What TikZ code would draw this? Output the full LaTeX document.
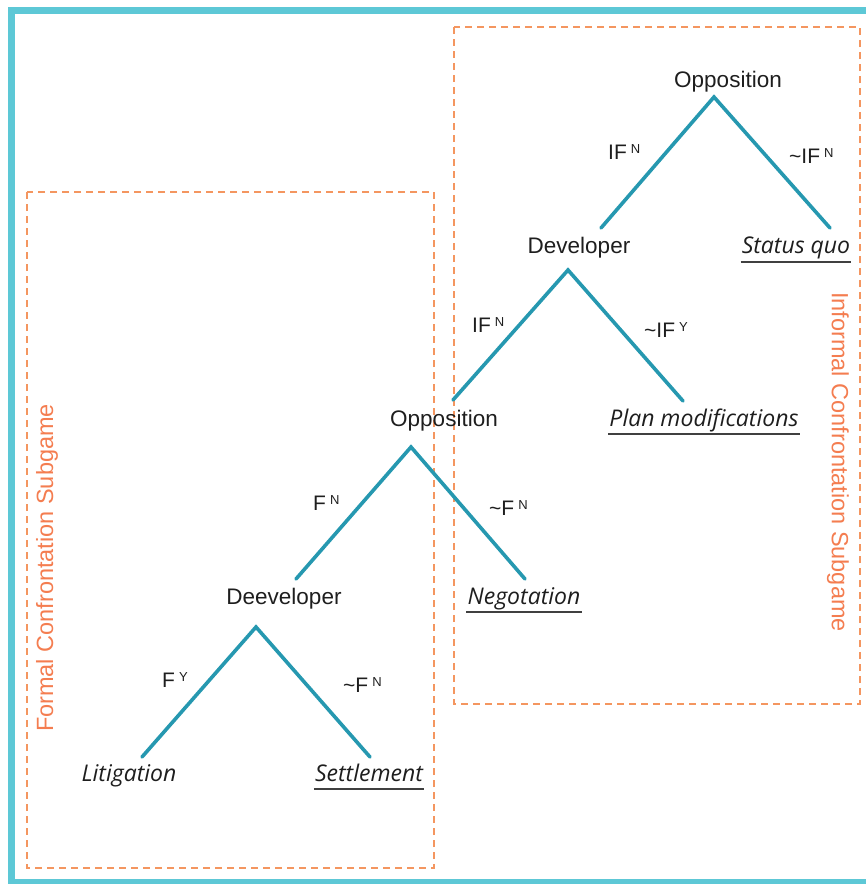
\documentclass[tikz,border=0pt]{standalone}
\usepackage{fontspec}
\setmainfont{Liberation Sans}
\newfontfamily\leaffont{Open Sans}
\definecolor{frameC}{RGB}{93,200,214}
\definecolor{treeC}{RGB}{38,152,176}
\definecolor{dashC}{RGB}{244,150,96}
\definecolor{subC}{RGB}{244,125,80}
\definecolor{txtC}{RGB}{30,30,30}
\newcommand\supl[1]{\hspace{4pt}\raisebox{6pt}{\fontsize{13}{15}\selectfont #1}}
\begin{document}
\begin{tikzpicture}[x=1pt,y=-1pt,
  branch/.style={draw=treeC, line width=3.6pt, line cap=round},
  player/.style={text=txtC, font=\fontsize{22.5}{26}\selectfont, inner sep=0pt, anchor=base},
  leaf/.style={text=txtC, font=\leaffont\itshape\fontsize{23}{27}\selectfont, inner sep=0pt, anchor=base},
  act/.style={text=txtC, font=\fontsize{21}{25}\selectfont, inner sep=0pt, anchor=base west},
  subbox/.style={draw=dashC, dash pattern=on 7pt off 5pt, line width=2.2pt},
  sublabel/.style={text=subC, font=\fontsize{23.5}{27}\selectfont, inner sep=0pt},
  uline/.style={draw=txtC!85, line width=1.4pt}]
\useasboundingbox (0,0) rectangle (866,884);
% outer frame
\draw[frameC, line width=7pt] (11.5,10) rectangle (875,882);
% subgame boxes
\draw[subbox] (454,27) rectangle (860,704);
\draw[subbox] (27,192) rectangle (434,868);
\node[sublabel, rotate=90] (formal) at (47,568) {Formal Confrontation Subgame};
\node[sublabel, rotate=-90] (informal) at (838,462) {Informal Confrontation Subgame};
% tree 1
\node[player] (opp1) at (728,87) {Opposition};
\coordinate (a1) at (714,97);
\coordinate (l1) at (601,228);
\coordinate (r1) at (830,228);
\draw[branch] (l1) -- (a1) -- (r1);
\node[act] (e1l) at (608,159) {IF\supl{N}};
\node[act] (e1r) at (789,163) {\textasciitilde IF\supl{N}};
\node[player] (dev1) at (579,253) {Developer};
\node[leaf] (sq) at (796,253) {Status quo};
\draw[uline] ([xshift=-1pt,yshift=-9pt]sq.base west) -- ([xshift=1pt,yshift=-9pt]sq.base east);
% tree 2
\coordinate (a2) at (568,270);
\coordinate (l2) at (453,400);
\coordinate (r2) at (683,401);
\draw[branch] (l2) -- (a2) -- (r2);
\node[act] (e2l) at (472,332) {IF\supl{N}};
\node[act] (e2r) at (644,337) {\textasciitilde IF\supl{Y}};
\node[player] (opp2) at (444,426) {Opposition};
\node[leaf] (pm) at (704,426) {Plan modifications};
\draw[uline] ([xshift=-1pt,yshift=-8pt]pm.base west) -- ([xshift=1pt,yshift=-8pt]pm.base east);
% tree 3
\coordinate (a3) at (411,447);
\coordinate (l3) at (296,579);
\coordinate (r3) at (525,579);
\draw[branch] (l3) -- (a3) -- (r3);
\node[act] (e3l) at (313,510) {F\supl{N}};
\node[act] (e3r) at (489,515) {\textasciitilde F\supl{N}};
\node[player] (dev2) at (284,604) {Deeveloper};
\node[leaf] (neg) at (524,604) {Negotation};
\draw[uline] ([xshift=-1pt,yshift=-8pt]neg.base west) -- ([xshift=1pt,yshift=-8pt]neg.base east);
% tree 4
\coordinate (a4) at (256,627);
\coordinate (l4) at (142,757);
\coordinate (r4) at (370,757);
\draw[branch] (l4) -- (a4) -- (r4);
\node[act] (e4l) at (162,687) {F\supl{Y}};
\node[act] (e4r) at (343,692) {\textasciitilde F\supl{N}};
\node[leaf] (lit) at (129,781) {Litigation};
\node[leaf] (set) at (369,781) {Settlement};
\draw[uline] ([xshift=-1pt,yshift=-8pt]set.base west) -- ([xshift=1pt,yshift=-8pt]set.base east);
\end{tikzpicture}
\end{document}
